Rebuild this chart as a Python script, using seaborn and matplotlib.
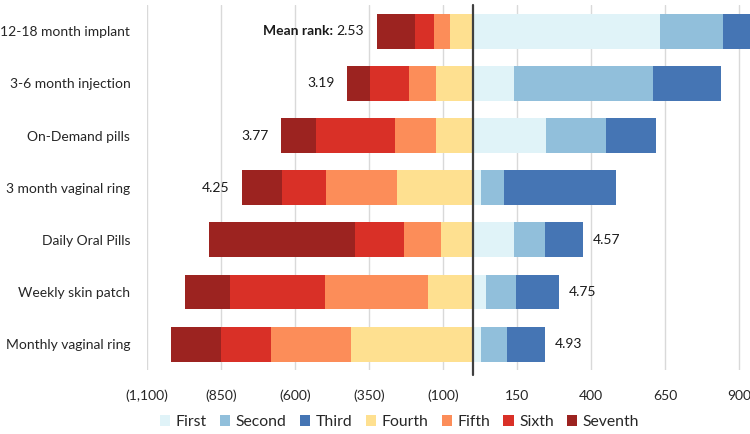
import matplotlib
matplotlib.use("Agg")
import matplotlib.pyplot as plt
import matplotlib.ticker as mticker
from matplotlib.patches import Patch
import seaborn as sns
import pandas as pd
import numpy as np

categories = ["12-18 month implant", "3-6 month injection", "On-Demand pills",
              "3 month vaginal ring", "Daily Oral Pills", "Weekly skin patch",
              "Monthly vaginal ring"]
first = [634, 141, 247, 27, 139, 46, 27]
second = [213, 469, 204, 78, 107, 100, 90]
third = [93, 230, 167, 381, 126, 146, 127]
fourth = [78, 123, 123, 257, 108, 151, 412]
fifth = [54, 93, 139, 239, 123, 349, 270]
sixth = [63, 132, 268, 149, 166, 318, 167]
seventh = [129, 75, 117, 134, 493, 152, 170]
mean_rank = ["2.53", "3.19", "3.77", "4.25", "4.57", "4.75", "4.93"]
label_side = ["left", "left", "left", "left", "right", "right", "right"]
ticks = [-1100, -850, -600, -350, -100, 150, 400, 650, 900]
rank_names = ["First", "Second", "Third", "Fourth", "Fifth", "Sixth", "Seventh"]

colors = {"First": "#E0F3F8", "Second": "#91BFDB", "Third": "#4575B4",
          "Fourth": "#FEE090", "Fifth": "#FC8D59", "Sixth": "#D93027",
          "Seventh": "#9C2320"}

sns.set_theme(style="white")
plt.rcParams["font.family"] = ["Lato", "DejaVu Sans"]
FS = 10

df = pd.DataFrame({"cat": categories, "First": first, "Second": second,
                   "Third": third, "Fourth": fourth, "Fifth": fifth,
                   "Sixth": sixth, "Seventh": seventh})

fig = plt.figure(figsize=(7.5, 4.34), dpi=100)
ax = fig.add_axes([0.196, 0.147, 0.804, 0.841])

# right side (positive): draw cumulative from largest to smallest
right_order = ["First", "Second", "Third"]
for i in range(len(right_order), 0, -1):
    cum = df[right_order[:i]].sum(axis=1)
    sns.barplot(x=cum, y=df["cat"], orient="h", color=colors[right_order[i - 1]],
                width=0.67, saturation=1, linewidth=0, ax=ax, order=categories)

left_order = ["Fourth", "Fifth", "Sixth", "Seventh"]
for i in range(len(left_order), 0, -1):
    cum = -df[left_order[:i]].sum(axis=1)
    sns.barplot(x=cum, y=df["cat"], orient="h", color=colors[left_order[i - 1]],
                width=0.67, saturation=1, linewidth=0, ax=ax, order=categories)

ax.set_xlim(-1100, 937)
ax.set_ylim(6.5, -0.5)
ax.set_xticks(ticks)
ax.xaxis.set_major_formatter(mticker.FuncFormatter(
    lambda v, p: f"({abs(v):,.0f})" if v < 0 else f"{v:,.0f}"))
ax.grid(axis="x", color="#D9D9D9", linewidth=1)
ax.set_axisbelow(True)
for s in ax.spines.values():
    s.set_visible(False)
ax.tick_params(axis="x", length=0, pad=14, labelsize=FS, colors="#262626")
ax.tick_params(axis="y", length=0, pad=12, labelsize=FS, colors="#262626")
ax.set_xlabel("")
ax.set_ylabel("")
ax.axvline(0, color="#404040", linewidth=1.6, ymin=-0.012, clip_on=False, zorder=5)

lefts = df[left_order].sum(axis=1).values
rights = df[right_order].sum(axis=1).values
for i, (lbl, side) in enumerate(zip(mean_rank, label_side)):
    if side == "left":
        t = ax.annotate(lbl, xy=(-lefts[i], i), xytext=(-9, 0), textcoords="offset points",
                        ha="right", va="center", fontsize=FS, color="#1a1a1a")
        if i == 0:
            ax.annotate("Mean rank: ", xy=(0, 0.5), xycoords=t, ha="right", va="center",
                        fontsize=FS, fontweight="bold", color="#1a1a1a")
    else:
        ax.annotate(lbl, xy=(rights[i], i), xytext=(7, 0), textcoords="offset points",
                    ha="left", va="center", fontsize=FS, color="#1a1a1a")

handles = [Patch(facecolor=colors[n], edgecolor="none", label=n) for n in rank_names]
fig.legend(handles=handles, loc="center", bbox_to_anchor=(0.533, 0.028), ncol=7,
           frameon=False, fontsize=11.3, handlelength=0.65, handleheight=0.65,
           handletextpad=0.35, columnspacing=0.85, labelcolor="#262626")

fig.savefig("out.png", dpi=100)
